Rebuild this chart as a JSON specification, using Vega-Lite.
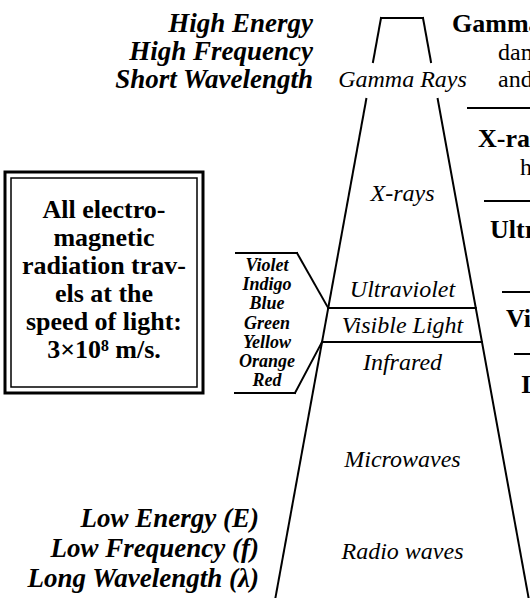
{
  "$schema": "https://vega.github.io/schema/vega-lite/v6.json",
  "width": 530,
  "height": 598,
  "padding": 0,
  "autosize": {"type": "none"},
  "background": "white",
  "config": {"view": {"stroke": null}},
  "datasets": {
    "segments": [
      {"part": "top", "x1": 381, "y1": 18, "x2": 423, "y2": 18},
      {"part": "left upper", "x1": 381, "y1": 18, "x2": 373, "y2": 62},
      {"part": "left lower", "x1": 366.3, "y1": 99, "x2": 275.4, "y2": 598},
      {"part": "right upper", "x1": 423, "y1": 18, "x2": 431, "y2": 62},
      {"part": "right lower", "x1": 437.7, "y1": 99, "x2": 528.6, "y2": 598},
      {"part": "uv/visible", "x1": 328.2, "y1": 308, "x2": 475.8, "y2": 308},
      {"part": "visible/ir", "x1": 322, "y1": 342, "x2": 482, "y2": 342},
      {"part": "bracket top", "x1": 236, "y1": 253, "x2": 297, "y2": 253},
      {"part": "bracket top diag", "x1": 297, "y1": 253, "x2": 328.2, "y2": 308},
      {"part": "bracket bottom", "x1": 235, "y1": 393, "x2": 295, "y2": 393},
      {"part": "bracket bottom diag", "x1": 295, "y1": 393, "x2": 322, "y2": 342},
      {"part": "note sep 1", "x1": 468, "y1": 108, "x2": 540, "y2": 108},
      {"part": "note sep 2", "x1": 485, "y1": 201, "x2": 540, "y2": 201},
      {"part": "note sep 3", "x1": 503, "y1": 292, "x2": 540, "y2": 292},
      {"part": "note sep 4", "x1": 515, "y1": 354, "x2": 540, "y2": 354}
    ],
    "frames": [
      {"frame": "outer", "x1": 5, "y1": 172, "x2": 203, "y2": 393},
      {"frame": "inner", "x1": 11, "y1": 178, "x2": 197, "y2": 387}
    ],
    "labels": [
      {"role": "energy", "text": "High Energy", "x": 313, "y": 32},
      {"role": "energy", "text": "High Frequency", "x": 313, "y": 60},
      {"role": "energy", "text": "Short Wavelength", "x": 313, "y": 88},
      {"role": "energy", "text": "Low Energy (E)", "x": 259, "y": 527},
      {"role": "energy", "text": "Low Frequency (f)", "x": 259, "y": 557},
      {"role": "energy", "text": "Long Wavelength (λ)", "x": 259, "y": 587},
      {"role": "note", "text": "All electro-", "x": 104, "y": 218},
      {"role": "note", "text": "magnetic", "x": 104, "y": 246},
      {"role": "note", "text": "radiation trav-", "x": 104, "y": 274},
      {"role": "note", "text": "els at the", "x": 104, "y": 302},
      {"role": "note", "text": "speed of light:", "x": 104, "y": 330},
      {"role": "note", "text": "3×10⁸ m/s.", "x": 104, "y": 358},
      {"role": "band", "text": "Gamma Rays", "x": 402.5, "y": 87},
      {"role": "band", "text": "X-rays", "x": 402.5, "y": 201},
      {"role": "band", "text": "Ultraviolet", "x": 402.5, "y": 297},
      {"role": "band", "text": "Visible Light", "x": 402.5, "y": 333},
      {"role": "band", "text": "Infrared", "x": 402.5, "y": 370},
      {"role": "band", "text": "Microwaves", "x": 402.5, "y": 467},
      {"role": "band", "text": "Radio waves", "x": 402.5, "y": 559},
      {"role": "color", "text": "Violet", "x": 267, "y": 271},
      {"role": "color", "text": "Indigo", "x": 267, "y": 290},
      {"role": "color", "text": "Blue", "x": 267, "y": 309},
      {"role": "color", "text": "Green", "x": 267, "y": 329},
      {"role": "color", "text": "Yellow", "x": 267, "y": 348},
      {"role": "color", "text": "Orange", "x": 267, "y": 367},
      {"role": "color", "text": "Red", "x": 267, "y": 386},
      {"role": "heading", "text": "Gamma Rays", "x": 452, "y": 32},
      {"role": "desc", "text": "damage cells", "x": 498, "y": 60},
      {"role": "desc", "text": "and DNA", "x": 498, "y": 87},
      {"role": "heading", "text": "X-rays", "x": 478, "y": 147},
      {"role": "desc", "text": "harm tissue", "x": 520, "y": 175},
      {"role": "heading", "text": "Ultraviolet", "x": 490, "y": 238},
      {"role": "heading", "text": "Visible", "x": 506, "y": 327},
      {"role": "heading", "text": "Infrared", "x": 521, "y": 393}
    ]
  },
  "encoding": {
    "x": {"field": "x", "type": "quantitative", "scale": {"domain": [0, 530], "nice": false, "zero": false}, "axis": null},
    "y": {"field": "y", "type": "quantitative", "scale": {"domain": [0, 598], "reverse": true, "nice": false, "zero": false}, "axis": null}
  },
  "layer": [
    {
      "data": {"name": "frames"},
      "transform": [{"filter": "datum.frame === 'outer'"}],
      "mark": {"type": "rect", "filled": false, "stroke": "black", "strokeWidth": 3},
      "encoding": {
        "x": {"field": "x1", "type": "quantitative"},
        "y": {"field": "y1", "type": "quantitative"},
        "x2": {"field": "x2"},
        "y2": {"field": "y2"}
      }
    },
    {
      "data": {"name": "frames"},
      "transform": [{"filter": "datum.frame === 'inner'"}],
      "mark": {"type": "rect", "filled": false, "stroke": "black", "strokeWidth": 1.5},
      "encoding": {
        "x": {"field": "x1", "type": "quantitative"},
        "y": {"field": "y1", "type": "quantitative"},
        "x2": {"field": "x2"},
        "y2": {"field": "y2"}
      }
    },
    {
      "data": {"name": "segments"},
      "mark": {"type": "rule", "color": "black", "strokeWidth": 2, "strokeCap": "square", "clip": true},
      "encoding": {
        "x": {"field": "x1", "type": "quantitative"},
        "y": {"field": "y1", "type": "quantitative"},
        "x2": {"field": "x2"},
        "y2": {"field": "y2"}
      }
    },
    {
      "data": {"name": "labels"},
      "transform": [{"filter": "datum.role === 'energy'"}],
      "mark": {"type": "text", "font": "Liberation Serif", "fontSize": 27, "fontWeight": "bold", "fontStyle": "italic", "align": "right", "baseline": "alphabetic", "color": "black"},
      "encoding": {"text": {"field": "text"}}
    },
    {
      "data": {"name": "labels"},
      "transform": [{"filter": "datum.role === 'note'"}],
      "mark": {"type": "text", "font": "Liberation Serif", "fontSize": 26, "fontWeight": "bold", "align": "center", "baseline": "alphabetic", "color": "black"},
      "encoding": {"text": {"field": "text"}}
    },
    {
      "data": {"name": "labels"},
      "transform": [{"filter": "datum.role === 'band'"}],
      "mark": {"type": "text", "font": "Liberation Serif", "fontSize": 24, "fontStyle": "italic", "align": "center", "baseline": "alphabetic", "color": "black"},
      "encoding": {"text": {"field": "text"}}
    },
    {
      "data": {"name": "labels"},
      "transform": [{"filter": "datum.role === 'color'"}],
      "mark": {"type": "text", "font": "Liberation Serif", "fontSize": 18, "fontWeight": "bold", "fontStyle": "italic", "align": "center", "baseline": "alphabetic", "color": "black"},
      "encoding": {"text": {"field": "text"}}
    },
    {
      "data": {"name": "labels"},
      "transform": [{"filter": "datum.role === 'heading'"}],
      "mark": {"type": "text", "font": "Liberation Serif", "fontSize": 26, "fontWeight": "bold", "align": "left", "baseline": "alphabetic", "color": "black", "clip": true},
      "encoding": {"text": {"field": "text"}}
    },
    {
      "data": {"name": "labels"},
      "transform": [{"filter": "datum.role === 'desc'"}],
      "mark": {"type": "text", "font": "Liberation Serif", "fontSize": 24, "align": "left", "baseline": "alphabetic", "color": "black", "clip": true},
      "encoding": {"text": {"field": "text"}}
    }
  ]
}
